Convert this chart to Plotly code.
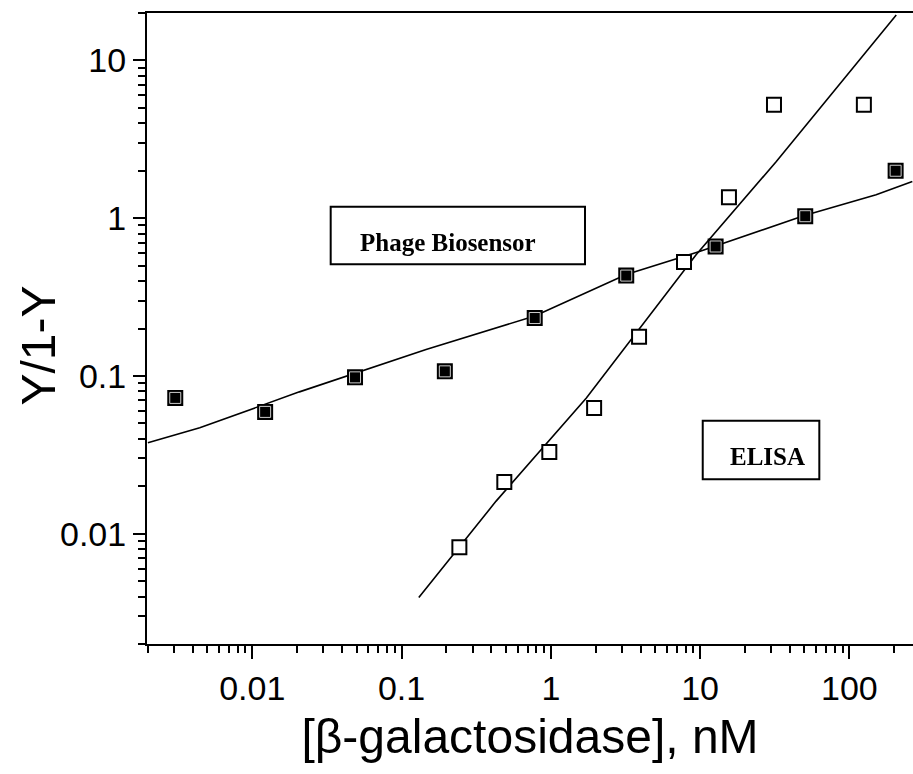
import plotly.graph_objects as go

# Data
phage_x = [0.00305, 0.0122, 0.0488, 0.195, 0.78, 3.2, 12.7, 50.6, 204]
phage_y = [0.0726, 0.0592, 0.098, 0.107, 0.233, 0.433, 0.662, 1.03, 2.0]
elisa_x = [0.244, 0.488, 0.977, 1.95, 3.9, 7.8, 15.6, 31.25, 125]
elisa_y = [0.0082, 0.0213, 0.033, 0.0627, 0.177, 0.527, 1.36, 5.25, 5.25]
phage_fit_x = [0.002, 0.00445, 0.0207, 0.146, 0.78, 3.2, 9.9, 50, 151, 264]
phage_fit_y = [0.0377, 0.0469, 0.0793, 0.147, 0.24, 0.44, 0.615, 1.04, 1.41, 1.71]
elisa_fit_x = [0.1305, 0.43, 1.73, 9.4, 32.4, 95, 206]
elisa_fit_y = [0.00394, 0.0161, 0.0726, 0.586, 2.29, 7.9, 19.4]

x_major = [0.01, 0.1, 1, 10, 100]
x_major_text = ["0.01", "0.1", "1", "10", "100"]
y_major = [0.01, 0.1, 1, 10]
y_major_text = ["0.01", "0.1", "1", "10"]
minor_vals = [m * 10.0 ** e for e in range(-3, 3) for m in range(2, 10)]

fig = go.Figure()
fig.add_trace(go.Scatter(x=phage_fit_x, y=phage_fit_y, mode="lines",
                         line=dict(color="black", width=1.6), showlegend=False))
fig.add_trace(go.Scatter(x=elisa_fit_x, y=elisa_fit_y, mode="lines",
                         line=dict(color="black", width=1.6), showlegend=False))
fig.add_trace(go.Scatter(x=elisa_x, y=elisa_y, mode="markers",
                         marker=dict(symbol="square", size=14, color="white",
                                     line=dict(color="black", width=2)),
                         showlegend=False))
fig.add_trace(go.Scatter(x=phage_x, y=phage_y, mode="markers",
                         marker=dict(symbol="square", size=14, color="black",
                                     line=dict(color="black", width=2)),
                         showlegend=False))
fig.add_trace(go.Scatter(x=phage_x, y=phage_y, mode="markers",
                         marker=dict(symbol="square-open", size=11, color="white",
                                     line=dict(color="white", width=1)),
                         showlegend=False, opacity=0.8))

axis_font = dict(family="Liberation Sans, Arial", size=34, color="black")

fig.update_xaxes(type="log", range=[-2.705, 2.426], showline=True, linecolor="black",
                 linewidth=2, mirror=True, ticks="outside", ticklen=13, tickwidth=2,
                 tickcolor="black", tickmode="array", tickvals=x_major,
                 ticktext=x_major_text, tickfont=axis_font, showgrid=False, zeroline=False,
                 minor=dict(tickmode="array", tickvals=minor_vals, ticks="outside",
                            ticklen=7, tickwidth=2, tickcolor="black", showgrid=False),
                 title=dict(text="[β-galactosidase], nM",
                            font=dict(family="Liberation Sans, Arial", size=48, color="black"),
                            standoff=14))
fig.update_yaxes(type="log", range=[-2.699, 1.301], showline=True, linecolor="black",
                 linewidth=2, mirror=False, ticks="outside", ticklen=12, tickwidth=2,
                 tickcolor="black", tickmode="array", tickvals=y_major,
                 ticktext=y_major_text, tickfont=axis_font, showgrid=False, zeroline=False,
                 minor=dict(tickmode="array", tickvals=minor_vals, ticks="outside",
                            ticklen=7, tickwidth=2, tickcolor="black", showgrid=False))

fig.add_annotation(text="Y/1-Y", xref="paper", yref="paper", x=-0.141, y=0.473,
                   xanchor="center", yanchor="middle", textangle=-90, showarrow=False,
                   font=dict(family="Liberation Sans, Arial", size=48, color="black"))

# Label boxes
fig.add_shape(type="rect", xref="paper", yref="paper", x0=0.2398, x1=0.5718,
              y0=0.6017, y1=0.6930, line=dict(color="black", width=2))
fig.add_annotation(text="<b>Phage Biosensor</b>", xref="paper", yref="paper",
                   x=0.393, y=0.636, xanchor="center", yanchor="middle", showarrow=False,
                   font=dict(family="Liberation Serif, Times New Roman", size=25, color="black"))
fig.add_shape(type="rect", xref="paper", yref="paper", x0=0.7255, x1=0.8777,
              y0=0.2610, y1=0.3539, line=dict(color="black", width=2))
fig.add_annotation(text="<b>ELISA</b>", xref="paper", yref="paper",
                   x=0.810, y=0.297, xanchor="center", yanchor="middle", showarrow=False,
                   font=dict(family="Liberation Serif, Times New Roman", size=25, color="black"))

fig.update_layout(width=913, height=774, margin=dict(l=147, r=0, t=13, b=130),
                  plot_bgcolor="white", paper_bgcolor="white", showlegend=False)

fig.write_html("out.html")
